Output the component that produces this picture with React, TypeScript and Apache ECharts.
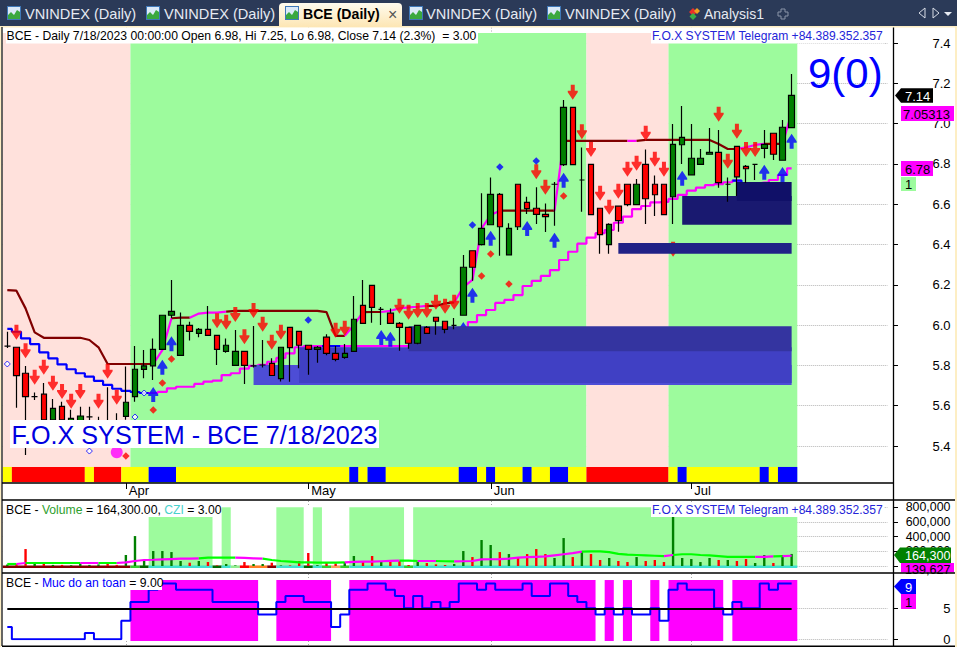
import React, { useEffect, useRef } from "react";
import * as echarts from "echarts";

const FONT = "'Liberation Sans', Arial, sans-serif";
const BARS = 87;
const SLOTS = 97;
const PANEL_LEFT = 2.75;
const BAND = 9.12;

const opens = [5.896,5.89,5.761,5.645,5.657,5.53,5.597,5.52,5.52,5.545,5.5,5.5,5.5,5.547,5.645,5.78,5.798,5.88,6.049,5.85,5.999,5.959,5.979,5.949,5.87,5.8,5.87,5.798,5.802,5.81,5.734,5.989,5.969,5.9,5.88,5.94,5.86,5.84,5.87,6.098,6.197,6.078,6.059,6.009,5.989,5.91,5.989,6.039,6.019,5.999,6.049,6.369,6.399,6.498,6.649,6.349,6.699,6.609,6.58,6.55,6.699,6.796,7.081,6.72,6.798,6.58,6.399,6.59,6.699,6.598,6.798,6.699,6.699,6.637,6.895,6.746,6.798,6.848,6.857,6.699,6.887,6.788,6.798,6.877,6.952,6.818,6.98];
const closes = [5.896,5.749,5.645,5.645,5.53,5.587,5.53,5.537,5.549,5.545,5.5,5.48,5.47,5.617,5.781,5.798,5.88,6.049,6.068,5.999,5.969,5.979,5.949,5.88,5.9,5.87,5.8,5.798,5.802,5.75,5.89,5.888,5.9,5.88,5.89,5.86,5.83,5.86,6.029,6.009,6.088,6.078,6.009,5.989,5.91,5.999,5.959,6.019,5.979,5.999,6.287,6.287,6.48,6.649,6.488,6.48,6.488,6.578,6.55,6.538,6.699,7.081,6.796,6.72,6.548,6.449,6.5,6.518,6.598,6.699,6.627,6.647,6.548,6.897,6.932,6.828,6.828,6.857,6.707,6.699,6.736,6.776,6.798,6.897,6.848,6.982,7.14];
const lows = [5.886,5.59,5.355,5.628,5.48,5.5,5.5,5.49,5.48,5.48,5.47,5.45,5.45,5.53,5.62,5.736,5.727,5.88,6.035,5.85,5.923,5.94,5.949,5.802,5.863,5.8,5.708,5.79,5.79,5.75,5.72,5.719,5.786,5.754,5.813,5.85,5.82,5.833,5.87,6.009,6.012,6.0,6.009,5.873,5.883,5.905,5.959,5.952,5.96,5.979,6.049,6.22,6.395,6.498,6.344,6.349,6.472,6.551,6.502,6.462,6.493,6.79,6.796,6.563,6.548,6.354,6.354,6.463,6.59,6.598,6.502,6.541,6.548,6.502,6.8,6.746,6.798,6.848,6.682,6.612,6.641,6.705,6.72,6.828,6.819,6.818,6.98];
const highs = [5.967,5.89,5.797,5.665,5.713,5.633,5.62,5.58,5.595,5.595,5.545,5.691,5.562,5.794,5.896,5.876,5.934,6.05,6.224,6.063,6.017,5.985,6.095,5.949,5.934,5.976,5.87,5.996,5.926,5.835,5.89,5.989,5.969,5.9,5.896,5.955,5.896,5.906,6.144,6.224,6.197,6.09,6.083,6.015,5.989,5.999,5.995,6.039,6.019,6.035,6.348,6.369,6.654,6.733,6.655,6.505,6.699,6.637,6.684,6.604,6.71,7.117,7.081,6.882,6.798,6.58,6.505,6.59,6.699,6.725,6.872,6.743,6.699,6.998,7.087,6.998,6.874,6.978,6.968,6.733,6.887,6.795,6.798,6.968,6.952,7.018,7.246];

const lowerStop = [5.981,5.967,5.934,5.906,5.865,5.835,5.805,5.781,5.761,5.744,5.723,5.703,5.684,5.674,5.668,5.663,5.663,5.669,5.686,5.694,5.694,5.708,5.719,5.724,5.752,5.761,5.784,5.798,5.803,5.818,5.837,5.86,5.89,5.896,5.896,5.896,5.896,5.896,5.896,5.896,5.896,5.896,5.896,5.896,5.896,5.901,5.901,5.906,5.926,5.956,5.986,6.015,6.05,6.075,6.11,6.125,6.149,6.194,6.219,6.244,6.273,6.323,6.364,6.404,6.434,6.456,6.472,6.508,6.538,6.576,6.591,6.609,6.612,6.626,6.646,6.667,6.682,6.695,6.7,6.709,6.717,6.704,6.704,6.707,6.72,6.745,6.778];
const upperStop = [6.174,6.171,6.083,5.964,5.937,5.937,5.937,5.937,5.937,5.926,5.89,5.807,5.807,5.807,5.807,5.807,5.807,5.876,6.034,6.037,6.037,6.057,6.062,6.062,6.067,6.071,6.071,6.071,6.071,6.071,6.071,6.071,6.071,6.071,6.071,6.064,5.947,5.947,6.0,6.064,6.065,6.065,6.071,6.083,6.088,6.091,6.095,6.095,6.108,6.113,6.189,6.224,6.48,6.546,6.568,6.568,6.568,6.568,6.568,6.568,6.568,6.914,6.914,6.914,6.914,6.914,6.914,6.914,6.914,6.914,6.919,6.919,6.919,6.919,6.919,6.919,6.919,6.919,6.899,6.874,6.874,6.882,6.894,6.899,6.899,6.899,7.053];
const MAROON = "#800000", MAGENTA = "#ff00ff", BLUE = "#0000ff", LIME = "#00ff00";
const lowerRuns: [number, number, string][] = [[0,16,BLUE],[16,35,MAGENTA],[35,37,BLUE],[37,80,MAGENTA],[80,82,BLUE],[82,86,MAGENTA]];
const upperRuns: [number, number, string][] = [[0,16,MAROON],[16,18,MAGENTA],[18,20,MAROON],[20,24,MAGENTA],[24,37,MAROON],[37,39,MAGENTA],[39,41,MAROON],[41,46,MAGENTA],[46,49,MAROON],[49,54,MAGENTA],[54,60,MAROON],[60,61,MAGENTA],[61,68,MAROON],[68,69,MAGENTA],[69,80,MAROON],[80,83,MAGENTA],[83,85,MAROON],[85,86,MAGENTA]];

const redArrows = [[1,5.964],[2,5.873],[3,5.741],[4,5.791],[5,5.711],[6,5.671],[7,5.622],[8,5.671],[10,5.622],[11,5.771],[12,5.642],[23,6.022],[24,6.014],[25,6.052],[26,5.942],[27,6.073],[28,6.004],[29,5.915],[30,5.964],[36,5.974],[37,5.984],[43,6.093],[44,6.064],[45,6.073],[46,6.073],[47,6.113],[48,6.093],[49,6.113],[58,6.761],[59,6.684],[62,7.155],[63,6.96],[64,6.872],[65,6.654],[66,6.585],[67,6.664],[68,6.773],[69,6.803],[70,6.952],[71,6.823],[72,6.773],[73,6.376],[78,7.046],[79,6.813],[80,6.962],[81,6.872],[82,6.872]];
const blueArrows = [[16,5.655],[17,5.791],[18,5.908],[41,5.939],[42,5.93],[50,5.978],[51,6.148],[53,6.431],[57,6.48],[60,6.421],[61,6.719],[74,6.729],[83,6.758],[85,6.748],[86,6.912]];
const redDiamonds = [[13,5.35],[16,5.579],[17,5.713],[18,5.832],[52,6.244],[53,6.353],[55,6.204],[61,6.641]];
const blueDiamonds = [[33,6.025],[51,6.497],[54,6.785],[58,6.814]];
const hollowDiamonds = [[0,5.807],[9,5.375],[14,5.544],[15,5.663]];
const magentaDots = [[12,5.369]];

const regimeZones: [number, number, string][] = [[0,13,"#ffe1dc"],[14,63,"#9dfb9d"],[64,72,"#ffe1dc"],[73,86,"#9dfb9d"]];
const Y = "#ffff00", R = "#ff0000", B = "#0000ff";
const ribbonRuns: [number, number, string][] = [[0,0,Y],[1,8,R],[9,9,Y],[10,12,R],[13,15,Y],[16,18,B],[19,37,Y],[38,38,B],[39,39,Y],[40,41,B],[42,49,Y],[50,51,B],[52,52,Y],[53,53,B],[54,56,Y],[57,57,B],[58,59,Y],[60,61,B],[62,63,Y],[64,72,R],[73,73,Y],[74,74,B],[75,82,Y],[83,83,B],[84,84,Y],[85,86,B]];
const supplyBoxes: [number, number, number, number, string][] = [
  [27,86,5.703,5.802,"#4d4dd6"],
  [32,86,5.713,5.89,"#4040c4"],
  [44,86,5.87,5.994,"#3434a0"],
  [74,86,6.498,6.641,"#191970"],
  [80,86,6.616,6.71,"#101068"],
  [67,86,6.354,6.408,"#212187"],
];

const volumes = [20000,30000,231000,36000,45000,15000,15000,10000,36000,15000,22000,32000,15000,150000,408000,68000,204000,204000,190000,68000,45000,68000,54000,8000,27000,8000,54000,27000,27000,45000,8000,8000,68000,177000,12000,54000,36000,54000,136000,68000,136000,64000,64000,68000,14000,54000,41000,23000,14000,27000,204000,122000,354000,286000,190000,163000,109000,163000,231000,163000,109000,381000,122000,204000,163000,82000,109000,68000,54000,122000,68000,82000,54000,671000,109000,95000,54000,109000,82000,82000,68000,95000,41000,150000,41000,150000,164300];
const volumeAvg = [27000,27000,41000,41000,41000,41000,41000,41000,41000,41000,41000,41000,41000,50000,68000,82000,85000,90000,95000,100000,100000,105000,113000,113000,113000,113000,110000,105000,100000,82000,68000,60000,50000,50000,45000,45000,45000,50000,55000,60000,60000,65000,70000,72000,72000,68000,68000,68000,65000,62000,65000,68000,90000,92000,95000,100000,115000,120000,125000,130000,145000,160000,175000,195000,200000,198000,190000,165000,155000,150000,145000,140000,135000,150000,160000,160000,150000,145000,135000,125000,125000,125000,125000,125000,130000,135000,139627];
const volumeAvgRuns: [number, number, string][] = [[0,1,LIME],[1,2,MAGENTA],[2,8,LIME],[8,10,MAGENTA],[10,12,LIME],[12,21,MAGENTA],[21,25,LIME],[25,28,MAGENTA],[28,37,LIME],[37,43,MAGENTA],[43,45,LIME],[45,47,MAGENTA],[47,49,LIME],[49,63,MAGENTA],[63,72,LIME],[72,73,MAGENTA],[73,82,LIME],[82,84,MAGENTA],[84,85,LIME],[85,86,MAGENTA]];
const volumeZones: [number, number][] = [[16,22],[24,24],[30,32],[34,34],[38,43],[45,86]];
const TQ = "#40e0d0";
const czRuns: [number, number, string][] = [[0,13,"#800000"],[14,14,"#32cd32"],[15,15,"#006400"],[16,22,TQ],[23,23,"#006400"],[24,24,TQ],[25,25,"#90ee90"],[26,26,"#ff0000"],[27,28,"#ff7f27"],[29,29,"#800000"],[30,32,TQ],[33,33,"#006400"],[34,34,TQ],[35,35,"#32cd32"],[36,36,"#f4a460"],[37,37,"#32cd32"],[38,43,TQ],[44,44,"#32cd32"],[45,86,TQ]];

const safety = [2,0,0,0,0,0,0,0,0,1,0,0,0,3,6,6,8,9,9,8,8,8,8,6,6,6,6,6,4,4,6,7,7,6,6,6,2,4,8,8,9,9,8,7,5,7,5,6,5,6,9,9,8,9,8,8,8,9,7,7,9,9,7,6,5,4,5,4,5,4,4,5,3,8,9,8,8,8,5,4,6,5,5,9,8,9,9];
const safetyZones: [number, number][] = [[14,27],[30,35],[38,64],[66,66],[68,68],[71,71],[73,78],[80,86]];

const monthTicks: Record<number, string> = { 13: "Apr", 33: "May", 53: "Jun", 75: "Jul" };
const priceTicks = [5.4,5.6,5.8,6.0,6.2,6.4,6.6,6.8,7.0,7.2,7.4];
const volumeTicks = [0,200000,400000,600000,800000];
const safetyTicks = [0,5];
const tabs = [
  { label: "VNINDEX (Daily)", icon: 7, x: 25 },
  { label: "VNINDEX (Daily)", icon: 146, x: 164 },
  { label: "VNINDEX (Daily)", icon: 409, x: 426 },
  { label: "VNINDEX (Daily)", icon: 547, x: 565 },
];

const UP_ARROW = "path://M3,15 H7 V9 H10 V7.5 L5,0 L0,7.5 V9 H3 Z";
const DOWN_ARROW = "path://M3,0 H7 V6 H10 V7.5 L5,15 L0,7.5 V6 H3 Z";

const slots = Array.from({ length: SLOTS }, (_, i) => (i < BARS ? String(i) : ""));

const blockSeries = (
  axis: number,
  rows: { from: number; to: number; lo: number; hi: number; color: string; center?: boolean }[],
  z: number
) => ({
  type: "custom",
  xAxisIndex: axis,
  yAxisIndex: axis,
  z,
  silent: true,
  clip: false,
  data: rows.map((r) => [r.from, r.hi]),
  renderItem: (params: any, api: any) => {
    const r = rows[params.dataIndex];
    const band = api.size([1, 0], [r.from, 0])[0];
    const a = api.coord([r.from, r.hi]);
    const b = api.coord([r.to, r.lo]);
    const x0 = r.center ? a[0] : a[0] - band / 2;
    const x1 = r.center ? b[0] : b[0] + band / 2 + (r.to === BARS - 1 ? 1.1 : 0);
    return { type: "rect", shape: { x: x0, y: a[1], width: x1 - x0, height: b[1] - a[1] }, style: { fill: r.color } };
  },
});

const runLines = (axis: number, values: number[], runs: [number, number, string][], z: number, step: any) =>
  runs.map(([from, to, color]) => ({
    type: "line",
    xAxisIndex: axis,
    yAxisIndex: axis,
    z,
    step,
    symbol: "none",
    silent: true,
    connectNulls: false,
    lineStyle: { color, width: 2.2 },
    data: values.map((v, i) => (i >= from && i <= to ? v : null)),
  }));

const marks = (data: number[][], symbol: string, size: any, color: string, z: number, extra: any = {}) => ({
  type: "scatter",
  xAxisIndex: 0,
  yAxisIndex: 0,
  z,
  silent: true,
  symbol,
  symbolSize: size,
  itemStyle: { color, ...extra },
  data,
});

const rect = (x: number, y: number, w: number, h: number, fill: any, z = 100, r?: any) => ({
  type: "rect", z, silent: true, shape: { x, y, width: w, height: h, r }, style: { fill },
});
const label = (x: number, y: number, text: string, size: number, fill: string, opts: any = {}) => ({
  type: "text", z: 110, silent: true, x, y,
  style: { text, fill, font: `${opts.weight || "normal"} ${size}px ${FONT}`, align: opts.align || "left", verticalAlign: "middle", rich: opts.rich },
});
const hline = (x0: number, x1: number, y: number, w: number, c = "#000", z = 105) => ({
  type: "line", z, silent: true, shape: { x1: x0, y1: y, x2: x1, y2: y }, style: { stroke: c, lineWidth: w },
});
const vline = (x: number, y0: number, y1: number, w: number, c = "#000", z = 105, dash?: any) => ({
  type: "line", z, silent: true, shape: { x1: x, y1: y0, x2: x, y2: y1 }, style: { stroke: c, lineWidth: w, lineDash: dash },
});
const poly = (points: number[][], fill: string, stroke?: string) => ({
  type: "polygon", z: 104, silent: true, shape: { points }, style: stroke ? { fill: "none", stroke, lineWidth: 1 } : { fill },
});
const tabIcon = (x: number) => [
  rect(x, 6, 14, 14, "#3f78b8", 102),
  rect(x + 1, 7, 12, 12, "#dbe9f8", 103),
  poly([[x + 1, 19], [x + 1, 15], [x + 4, 12], [x + 7, 15], [x + 10, 10], [x + 13, 12], [x + 13, 19]], "#3aa83f"),
];

const chrome = () => {
  const items: any[] = [
    rect(0, 0, 957, 26, "#2b3a58", 100),
    rect(0, 26, 957, 1.5, "#fdeec4", 101),
    rect(279, 3, 123, 24, { type: "linear", x: 0, y: 0, x2: 0, y2: 1, colorStops: [{ offset: 0, color: "#fffbee" }, { offset: 1, color: "#fde6b4" }] }, 101, [4, 4, 0, 0]),
    rect(0, 26, 1.2, 621, "#fdeec4", 101),
    rect(955, 26, 2, 621, "#fdeec4", 101),
    vline(2, 27, 646, 1.2),
    vline(893.5, 27.5, 646, 1.3),
    hline(2, 893, 483, 1.3),
    hline(2, 955, 500, 1.5),
    hline(2, 955, 573, 1.5),
    hline(2, 955, 646.3, 1.5),
  ];
  Object.keys(monthTicks).forEach((k) => {
    const x = Math.round(PANEL_LEFT + BAND * (Number(k) + 0.5)) + 0.5;
    items.push(vline(x, 483, 489, 1, "#000", 106));
    [[27.5, 33], [501, 507], [574, 580], [641, 646]].forEach(([a, b]) => items.push(vline(x, a, b, 1, "#a8a8a8", 99, [1, 2])));
  });
  tabs.forEach((t) => {
    items.push(...tabIcon(t.icon));
    items.push(label(t.x, 14, t.label, 14.6, "#e6eaf2"));
  });
  items.push(...tabIcon(285));
  items.push(label(303, 14, "BCE (Daily)", 14.1, "#000", { weight: "bold" }));
  items.push(label(388, 14, "×", 16, "#555"));
  items.push(poly([[693, 8], [697, 12], [693, 16], [689, 12]], "#e8302a"));
  items.push(poly([[697, 8], [700, 11], [697, 14], [694, 11]], "#f0a020"));
  items.push(poly([[693, 13], [696.5, 16.5], [693, 20], [689.5, 16.5]], "#38b048"));
  items.push(label(704, 14, "Analysis1", 14, "#e6eaf2"));
  items.push(poly([[781, 9], [785, 9], [785, 12], [788, 12], [788, 16], [785, 16], [785, 19], [781, 19], [781, 16], [778, 16], [778, 12], [781, 12]], "", "#8a94a8"));
  items.push(poly([[925, 8], [919, 13], [925, 18]], "", "#d8dce6"));
  items.push(poly([[933, 8], [939, 13], [933, 18]], "", "#d8dce6"));
  items.push(poly([[944, 12], [952, 12], [948, 16]], "#e8ecf4"));

  items.push(rect(6, 27.5, 472, 16, "#fff"));
  items.push(label(6.5, 35.5, "BCE - Daily 7/18/2023 00:00:00 Open 6.98, Hi 7.25, Lo 6.98, Close 7.14 (2.3%)  = 3.00", 12.2, "#000"));
  items.push(rect(651, 27.5, 233, 16, "#fff"));
  items.push(label(652, 35.5, "F.O.X SYSTEM Telegram +84.389.352.357", 12.1, "#2424d8"));
  items.push(label(808, 73, "9(0)", 42, "#0000ff"));
  items.push(rect(10, 420, 369, 28, "#fff"));
  items.push(label(11.5, 434.5, "F.O.X SYSTEM - BCE 7/18/2023", 25.15, "#0000e0"));

  items.push(poly([[895, 95.5], [901, 88.3], [933, 88.3], [933, 102.7], [901, 102.7]], "#000"));
  items.push(label(905, 96, "7.14", 13, "#fff"));
  items.push(rect(901, 106, 53, 15, MAGENTA));
  items.push(label(903, 114, "7.05313", 13, "#000"));
  items.push(rect(901, 161, 32, 15, MAGENTA));
  items.push(label(905, 169, "6.78", 13, "#000"));
  items.push(rect(901, 177, 15, 14, "#9dfb9d"));
  items.push(label(905, 184.5, "1", 13, "#000"));

  items.push(rect(3, 501, 217, 16, "#fff"));
  items.push({
    type: "text", z: 110, silent: true, x: 6, y: 509.5,
    style: {
      text: "{k|BCE - }{g|Volume}{k| = 164,300.00, }{c|CZI}{k| = 3.00}", verticalAlign: "middle", font: `12.2px ${FONT}`,
      rich: { k: { fill: "#000", font: `12.2px ${FONT}` }, g: { fill: "#2ea02e", font: `12.2px ${FONT}` }, c: { fill: "#48d1cc", font: `12.2px ${FONT}` } },
    },
  });
  items.push(rect(651, 502, 233, 15, "#fff"));
  items.push(label(652, 510, "F.O.X SYSTEM Telegram +84.389.352.357", 12.1, "#2424d8"));

  items.push(poly([[894, 555], [900, 547.5], [951, 547.5], [951, 563], [900, 563]], "#008000"));
  items.push(label(905, 555.5, "164,300", 12.6, "#fff"));
  items.push(rect(901, 563, 53, 9.3, MAGENTA));
  items.push(label(905, 570, "139,627", 12.6, "#000"));

  items.push(rect(3, 574, 159, 16, "#fff"));
  items.push({
    type: "text", z: 110, silent: true, x: 6, y: 582.5,
    style: {
      text: "{k|BCE - }{b|Muc do an toan}{k| = 9.00}", verticalAlign: "middle", font: `12.2px ${FONT}`,
      rich: { k: { fill: "#000", font: `12.2px ${FONT}` }, b: { fill: "#0000ff", font: `12.2px ${FONT}` } },
    },
  });
  items.push(poly([[894, 586.5], [901, 579], [916, 579], [916, 594], [901, 594]], "#0000ff"));
  items.push(label(905, 587, "9", 13, "#fff"));
  items.push(rect(901, 594, 15, 15, MAGENTA));
  items.push(label(905, 602, "1", 13, "#000"));
  return items;
};

const yAxisBase = (grid: number, min: number, max: number, ticks: number[], format: (v: number) => string, size = 13) => ({
  type: "value",
  gridIndex: grid,
  position: "right",
  offset: 5.6,
  min,
  max,
  axisLine: { show: false },
  axisTick: { show: true, length: 5, lineStyle: { color: "#000" }, customValues: ticks },
  axisLabel: { show: true, customValues: ticks, margin: 57.5, align: "right", color: "#000", fontFamily: FONT, fontSize: size, formatter: format },
  splitLine: { show: true, showMinLine: true, lineStyle: { color: "#b4b4b4", type: "dotted", width: 1 } },
});

export default function App() {
  const ref = useRef<HTMLDivElement>(null);
  useEffect(() => {
    const chart = echarts.init(ref.current!, undefined, { renderer: "svg" });
    const layout = (top: number, height: number) => ({ left: PANEL_LEFT, width: BAND * SLOTS, top, height });
    const xBase = (grid: number) => ({
      type: "category", gridIndex: grid, data: slots, show: false, boundaryGap: true,
    });
    const candleData = opens.map((o, i) => [o, closes[i], lows[i], highs[i]]);
    const volBars = volumes.map((v, i) => ({
      value: v,
      itemStyle: { color: closes[i] >= opens[i] ? "#008000" : "#ff0000" },
    }));
    chart.setOption({
      animation: false,
      backgroundColor: "#ffffff",
      grid: [layout(2.7, 483.6), layout(483, 17), layout(507.3, 58.7), layout(577.3, 62)],
      xAxis: [
        xBase(0),
        {
          type: "category", gridIndex: 1, data: slots, position: "top", boundaryGap: true,
          axisLine: { show: false },
          axisTick: { show: false },
          axisLabel: {
            show: true, inside: true, margin: 1, align: "left", verticalAlign: "top", padding: [0, 0, 0, 3], color: "#000", fontFamily: FONT, fontSize: 13,
            interval: (i: number) => monthTicks[i] !== undefined,
            formatter: (_: string, i: number) => monthTicks[i] || "",
          },
          splitLine: { show: false },
        },
        xBase(2),
        xBase(3),
      ],
      yAxis: [
        yAxisBase(0, 5.2, 7.6, priceTicks, (v) => v.toFixed(1)),
        { type: "value", gridIndex: 1, show: false, min: 0, max: 1, splitLine: { show: false } },
        yAxisBase(2, 0, 800000, volumeTicks, (v) => v.toLocaleString("en-US"), 12.4),
        yAxisBase(3, 0, 10, safetyTicks, (v) => String(v)),
      ],
      graphic: { elements: chrome() },
      series: [
        blockSeries(0, regimeZones.map(([from, to, color]) => ({ from, to, lo: 5.216, hi: 7.45, color })), 1),
        blockSeries(0, ribbonRuns.map(([from, to, color]) => ({ from, to, lo: 5.221, hi: 5.296, color })), 2),
        ...runLines(0, upperStop, upperRuns, 3, false),
        ...runLines(0, lowerStop, lowerRuns, 3, "middle"),
        marks(redArrows, DOWN_ARROW, [10, 15], "#ff0000", 4),
        marks(blueArrows, UP_ARROW, [10, 15], "#0000ff", 4),
        marks(redDiamonds, "diamond", 7.5, "#ff0000", 4),
        marks(blueDiamonds, "diamond", 7.5, "#0000ff", 4),
        marks(hollowDiamonds, "diamond", 6, "#ffffff", 4, { borderColor: "#0000ff", borderWidth: 1 }),
        marks(magentaDots, "circle", 12, "#ff00ff", 4),
        blockSeries(0, supplyBoxes.map(([from, to, lo, hi, color]) => ({ from, to, lo, hi, color, center: true })), 5),
        {
          type: "candlestick",
          xAxisIndex: 0,
          yAxisIndex: 0,
          z: 6,
          silent: true,
          barWidth: 6,
          itemStyle: { color: "#008000", color0: "#ff0000", borderColor: "#000", borderColor0: "#000", borderColorDoji: "#000", borderWidth: 1.2 },
          data: candleData,
        },
        blockSeries(2, [{ from: 0, to: BARS - 1, lo: -30000, hi: 860000, color: "#ffffff" }], 1),
        blockSeries(2, volumeZones.map(([from, to]) => ({ from, to, lo: 0, hi: 800000, color: "#9dfb9d" })), 2),
        blockSeries(2, czRuns.map(([from, to, color]) => ({ from, to, lo: -27000, hi: 8000, color })), 3),
        {
          type: "bar", xAxisIndex: 2, yAxisIndex: 2, z: 4, silent: true, barWidth: 2.4, data: volBars,
        },
        ...runLines(2, volumeAvg, volumeAvgRuns, 5, false),
        blockSeries(3, [{ from: 0, to: BARS - 1, lo: -0.9, hi: 10, color: "#ffffff" }], 1),
        blockSeries(3, safetyZones.map(([from, to]) => ({ from, to, lo: -0.27, hi: 9.56, color: "#ff00ff" })), 2),
        {
          type: "line", xAxisIndex: 3, yAxisIndex: 3, z: 4, step: "middle", symbol: "none", silent: true,
          lineStyle: { color: "#0000ff", width: 2 }, data: safety,
          markLine: {
            silent: true, symbol: "none", label: { show: false }, animation: false,
            lineStyle: { color: "#000", type: "solid", width: 2 },
            data: [[{ coord: [0, 5] }, { coord: [BARS - 1, 5] }]],
          },
        },
      ],
    });
    return () => chart.dispose();
  }, []);
  return <div ref={ref} style={{ position: "absolute", left: 0, top: 0, width: 957, height: 647 }} />;
}
